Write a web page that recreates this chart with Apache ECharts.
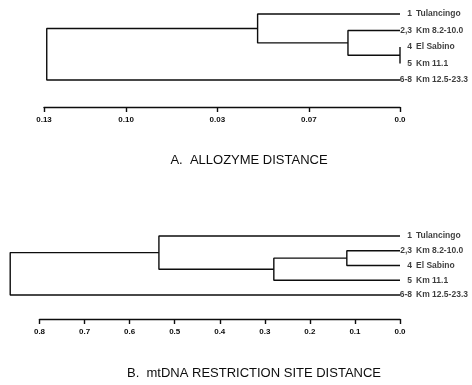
<!DOCTYPE html>
<html>
<head>
<meta charset="utf-8">
<script src="https://cdn.jsdelivr.net/npm/echarts@6/dist/echarts.min.js"></script>
<style>
  html, body { margin: 0; padding: 0; background: #fff; }
  #chart { width: 472px; height: 385px; }
</style>
</head>
<body>
<div id="chart"></div>
<script>
// leaves, top to bottom
const leafNums = ['1', '2,3', '4', '5', '6-8']
const leafNames = ['Tulancingo', 'Km 8.2-10.0', 'El Sabino', 'Km 11.1', 'Km 12.5-23.3']

// merges: [node a, node b, distance]; leaves are 0..4, new nodes get 5, 6, ...
const mergesA = [[2, 3, 0.0], [1, 5, 0.019], [0, 6, 0.052], [7, 4, 0.129]]
const mergesB = [[1, 2, 0.118], [5, 3, 0.28], [0, 6, 0.535], [7, 4, 0.865]]

// scale ticks (labels as printed)
const ticksA = [0.13, 0.10, 0.0667, 0.0333, 0.0]
const tickLabelsA = ['0.13', '0.10', '0.03', '0.07', '0.0']
const ticksB = [0.8, 0.7, 0.6, 0.5, 0.4, 0.3, 0.2, 0.1, 0.0]
const tickLabelsB = ['0.8', '0.7', '0.6', '0.5', '0.4', '0.3', '0.2', '0.1', '0.0']

const titleA = 'A.  ALLOZYME DISTANCE'
const titleB = 'B.  mtDNA RESTRICTION SITE DISTANCE'

const FONT = 'Liberation Sans'
const INK = '#0d0d0d'
const RIGHT_X = 400

function buildTree (merges) {
  const nodes = leafNums.map((_, i) => [0, i])
  const segs = []
  merges.forEach(m => {
    const a = nodes[m[0]]
    const b = nodes[m[1]]
    const h = m[2]
    segs.push([[a[0], a[1]], [h, a[1]], [h, b[1]], [b[0], b[1]]])
    nodes.push([h, (a[1] + b[1]) / 2])
  })
  return segs
}

const panels = [
  { merges: mergesA, ticks: ticksA, labels: tickLabelsA, top: 14, height: 66, axisY: 107, axisLeft: 44 },
  { merges: mergesB, ticks: ticksB, labels: tickLabelsB, top: 236, height: 59, axisY: 319, axisLeft: 39.5 }
]

const grid = []
const xAxis = []
const yAxis = []
const series = []

function leafLabelSeries (gi, texts, offsetX, align) {
  return {
    type: 'scatter',
    xAxisIndex: gi,
    yAxisIndex: gi,
    symbolSize: 0,
    clip: false,
    silent: true,
    data: texts.map((_, i) => [0, i]),
    label: {
      show: true,
      position: [offsetX, 0],
      align: align,
      verticalAlign: 'middle',
      color: INK,
      fontFamily: FONT,
      fontWeight: 'bold',
      fontSize: 8.5,
      formatter: q => texts[q.dataIndex]
    }
  }
}

panels.forEach((p, k) => {
  const axisMax = Math.max.apply(null, p.ticks)
  const treeMax = Math.max(axisMax, p.merges[p.merges.length - 1][2])
  const ppu = (RIGHT_X - p.axisLeft) / axisMax
  const treeLeft = RIGHT_X - treeMax * ppu
  const gTree = k * 2
  const gAxis = k * 2 + 1

  grid.push({ left: treeLeft, right: 472 - RIGHT_X, top: p.top, height: p.height })
  grid.push({ left: p.axisLeft, right: 472 - RIGHT_X, top: p.axisY - 10, height: 10 })

  xAxis.push({ type: 'value', gridIndex: gTree, min: 0, max: treeMax, inverse: true, show: false })
  xAxis.push({
    type: 'value',
    gridIndex: gAxis,
    min: 0,
    max: axisMax,
    inverse: true,
    position: 'bottom',
    splitLine: { show: false },
    axisLine: { show: true, lineStyle: { color: INK, width: 1.4 } },
    axisTick: { show: true, length: 5, customValues: p.ticks, lineStyle: { color: INK, width: 1.4 } },
    axisLabel: {
      customValues: p.ticks,
      margin: 9,
      fontSize: 8,
      fontWeight: 'bold',
      fontFamily: FONT,
      color: INK,
      formatter: v => {
        const i = p.ticks.findIndex(t => Math.abs(t - v) < 1e-6)
        return i >= 0 ? p.labels[i] : ''
      }
    }
  })

  yAxis.push({ type: 'value', gridIndex: gTree, min: 0, max: leafNums.length - 1, inverse: true, show: false })
  yAxis.push({ type: 'value', gridIndex: gAxis, min: 0, max: 1, show: false })

  buildTree(p.merges).forEach(seg => {
    series.push({
      type: 'line',
      xAxisIndex: gTree,
      yAxisIndex: gTree,
      data: seg,
      symbol: 'none',
      clip: false,
      silent: true,
      lineStyle: { color: INK, width: 1.4 }
    })
  })

  // leaf number right-aligned, then the name
  series.push(leafLabelSeries(gTree, leafNums, 12, 'right'))
  series.push(leafLabelSeries(gTree, leafNames, 16, 'left'))
})

const chart = echarts.init(document.getElementById('chart'))
chart.setOption({
  animation: false,
  backgroundColor: '#fff',
  grid: grid,
  xAxis: xAxis,
  yAxis: yAxis,
  series: series,
  graphic: [
    { type: 'text', x: 249, y: 160, style: { text: titleA, font: '13px "' + FONT + '"', fill: INK, align: 'center', verticalAlign: 'middle' } },
    { type: 'text', x: 254, y: 373, style: { text: titleB, font: '13px "' + FONT + '"', fill: INK, align: 'center', verticalAlign: 'middle' } }
  ]
})
</script>
</body>
</html>
